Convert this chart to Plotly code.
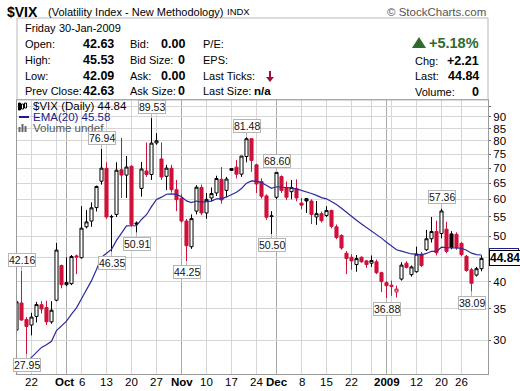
import math
import datetime as dt
import plotly.graph_objects as go

# ---------------- data ----------------
dates = [
    "2008-09-17", "2008-09-18", "2008-09-19", "2008-09-22", "2008-09-23", "2008-09-24", "2008-09-25", "2008-09-26",
    "2008-09-29", "2008-09-30", "2008-10-01", "2008-10-02", "2008-10-03", "2008-10-06", "2008-10-07", "2008-10-08",
    "2008-10-09", "2008-10-10", "2008-10-13", "2008-10-14", "2008-10-15", "2008-10-16", "2008-10-17", "2008-10-20",
    "2008-10-21", "2008-10-22", "2008-10-23", "2008-10-24", "2008-10-27", "2008-10-28", "2008-10-29", "2008-10-30",
    "2008-10-31", "2008-11-03", "2008-11-04", "2008-11-05", "2008-11-06", "2008-11-07", "2008-11-10", "2008-11-11",
    "2008-11-12", "2008-11-13", "2008-11-14", "2008-11-17", "2008-11-18", "2008-11-19", "2008-11-20", "2008-11-21",
    "2008-11-24", "2008-11-25", "2008-11-26", "2008-11-28", "2008-12-01", "2008-12-02", "2008-12-03", "2008-12-04",
    "2008-12-05", "2008-12-08", "2008-12-09", "2008-12-10", "2008-12-11", "2008-12-12", "2008-12-15", "2008-12-16",
    "2008-12-17", "2008-12-18", "2008-12-19", "2008-12-22", "2008-12-23", "2008-12-24", "2008-12-26", "2008-12-29",
    "2008-12-30", "2008-12-31", "2009-01-02", "2009-01-05", "2009-01-06", "2009-01-07", "2009-01-08", "2009-01-09",
    "2009-01-12", "2009-01-13", "2009-01-14", "2009-01-15", "2009-01-16", "2009-01-20", "2009-01-21", "2009-01-22",
    "2009-01-23", "2009-01-26", "2009-01-27", "2009-01-28", "2009-01-29", "2009-01-30",
]
opens = [
    31.5, 36.0, 33.2, 32.3, 33.7, 35.7, 35.2, 32.8,
    36.5, 43.3, 39.4, 39.6, 45.4, 45.0, 52.4, 53.9,
    57.6, 65.6, 69.9, 55.0, 55.7, 69.4, 67.6, 70.6,
    53.4, 63.3, 69.0, 67.8, 79.2, 73.2, 67.2, 69.9,
    62.9, 60.3, 53.9, 47.5, 56.6, 63.6, 56.1, 60.4,
    61.9, 66.2, 62.7, 69.8, 70.3, 67.9, 74.1, 80.9,
    71.1, 65.5, 61.0, 55.1, 60.6, 67.1, 63.6, 62.3,
    63.2, 58.9, 60.2, 59.5, 55.0, 55.9, 55.4, 56.8,
    52.4, 50.2, 46.0, 45.1, 43.5, 45.1, 44.3, 43.8,
    44.1, 41.8, 39.8, 39.3, 38.0, 40.5, 43.8, 41.4,
    42.0, 45.8, 46.8, 49.4, 51.2, 50.7, 51.8, 50.6,
    50.5, 48.3, 45.3, 42.4, 41.3, 42.63,
]
highs = [
    36.4, 42.16, 33.6, 34.3, 36.2, 36.3, 36.4, 36.3,
    48.4, 43.5, 45.1, 45.6, 45.7, 58.0, 56.9, 59.1,
    64.2, 76.94, 72.0, 55.6, 72.0, 81.17, 74.3, 71.0,
    53.8, 72.1, 79.4, 89.53, 83.1, 79.4, 71.1, 71.1,
    66.0, 61.5, 54.5, 55.7, 64.3, 64.5, 61.9, 63.6,
    67.4, 70.3, 67.0, 69.8, 72.8, 74.3, 81.48, 81.0,
    71.5, 66.5, 61.5, 56.6, 68.60, 67.5, 65.5, 66.0,
    66.2, 60.4, 60.2, 60.0, 59.5, 56.5, 58.0, 57.0,
    53.0, 50.5, 46.5, 45.8, 45.6, 45.3, 44.5, 45.5,
    44.6, 42.0, 40.1, 40.2, 39.2, 44.0, 44.2, 43.3,
    47.5, 46.3, 51.6, 55.0, 54.0, 57.36, 53.7, 51.3,
    51.0, 48.6, 45.6, 42.8, 43.0, 45.53,
]
lows = [
    31.0, 33.0, 27.95, 30.7, 32.7, 34.2, 32.3, 32.5,
    36.3, 38.7, 39.1, 39.3, 41.5, 44.8, 52.0, 52.4,
    56.5, 64.5, 54.5, 46.35, 55.0, 60.4, 60.4, 52.5,
    50.91, 60.8, 67.0, 66.0, 78.5, 66.0, 62.8, 62.0,
    56.6, 53.5, 44.25, 47.0, 55.7, 55.5, 54.5, 59.5,
    61.0, 58.7, 60.6, 69.0, 66.5, 67.0, 72.0, 68.7,
    61.9, 60.2, 54.2, 50.50, 60.0, 61.9, 59.8, 60.0,
    59.4, 57.1, 56.1, 53.1, 52.9, 53.5, 55.0, 52.0,
    49.3, 46.8, 41.5, 42.4, 42.0, 43.9, 42.8, 43.0,
    41.5, 38.0, 36.88, 37.3, 37.0, 40.2, 42.7, 41.0,
    41.8, 43.0, 46.5, 48.5, 45.5, 49.5, 46.0, 46.9,
    46.8, 45.3, 42.0, 38.09, 41.0, 42.09,
]
closes = [
    36.22, 33.10, 32.07, 33.59, 35.72, 34.95, 32.82, 34.74,
    46.72, 39.39, 39.81, 45.26, 45.14, 52.05, 53.68, 57.53,
    63.92, 69.95, 54.99, 55.13, 69.25, 67.61, 70.33, 52.97,
    53.11, 69.65, 67.80, 79.13, 80.06, 66.96, 69.96, 62.90,
    59.89, 53.90, 47.73, 54.56, 63.68, 56.10, 59.98, 61.73,
    66.46, 59.83, 66.31, 69.20, 67.90, 74.26, 80.86, 72.67,
    64.70, 60.90, 54.92, 55.28, 68.51, 62.68, 60.60, 63.60,
    60.40, 58.30, 59.50, 55.70, 55.90, 54.00, 56.80, 52.50,
    49.70, 47.20, 44.80, 44.30, 44.80, 44.10, 43.50, 44.40,
    41.80, 40.00, 39.19, 39.08, 38.56, 43.39, 42.90, 43.00,
    45.80, 43.30, 49.40, 51.20, 46.11, 56.65, 46.42, 47.29,
    47.27, 45.69, 42.25, 39.66, 42.63, 44.84,
]
prev_close_start = 30.30   # close of 16-Sep-2008 (decides colour of first bar)
ema_start = 24.5           # EMA(20) level at 16-Sep-2008 (left end of the blue line)
ema_period = 20

tick_dates = ["2008-09-22", "2008-10-01", "2008-10-06", "2008-10-13", "2008-10-20", "2008-10-27",
              "2008-11-03", "2008-11-10", "2008-11-17", "2008-11-24", "2008-12-01", "2008-12-08",
              "2008-12-15", "2008-12-22", "2009-01-02", "2009-01-12", "2009-01-20", "2009-01-26"]
tick_labels = ["22", "<b>Oct</b>", "6", "13", "20", "27", "<b>Nov</b>", "10", "17", "24", "<b>Dec</b>",
               "8", "15", "22", "<b>2009</b>", "12", "20", "26"]

y_ticks = [30, 35, 40, 45, 50, 55, 60, 65, 70, 75, 80, 85, 90, 95]
y_tick_labels = ["30", "35", "40", "45", "50", "55", "60", "65", "70", "75", "80", "85", "90", ""]

label_dates = ["2008-09-18", "2008-09-19", "2008-10-10", "2008-10-14", "2008-10-21", "2008-10-24",
               "2008-11-04", "2008-11-20", "2008-11-28", "2008-12-01", "2009-01-02", "2009-01-20", "2009-01-28"]
label_values = [42.16, 27.95, 76.94, 46.35, 50.91, 89.53, 44.25, 81.48, 50.50, 68.60, 36.88, 57.36, 38.09]
label_sides = ["high", "low", "high", "low", "low", "high", "low", "high", "low", "high", "low", "high", "low"]

last_close = 44.84
ema_last = 45.58

# ---------------- derived ----------------
n = len(dates)
xs = list(range(n))
pos = {d: i for i, d in enumerate(dates)}

ema = []
e = ema_start
k = 2.0 / (ema_period + 1)
for c in closes:
    e = e + k * (c - e)
    ema.append(e)

prev = [prev_close_start] + closes[:-1]
red_idx = [i for i in range(n) if closes[i] < prev[i]]
blk_idx = [i for i in range(n) if closes[i] >= prev[i]]

RED = "#d0103a"
BLK = "#000000"
FONT = "Liberation Sans, Arial, sans-serif"


def candle(idxs, color):
    return go.Candlestick(
        x=[xs[i] for i in idxs], open=[opens[i] for i in idxs], high=[highs[i] for i in idxs],
        low=[lows[i] for i in idxs], close=[closes[i] for i in idxs],
        increasing=dict(line=dict(color=color, width=1), fillcolor="white"),
        decreasing=dict(line=dict(color=color, width=1), fillcolor=color),
        whiskerwidth=0, showlegend=False, hoverinfo="skip")


fig = go.Figure()
fig.add_trace(go.Scatter(x=xs, y=ema, mode="lines", line=dict(color="#2a2a9c", width=1.2),
                         hoverinfo="skip", showlegend=False))
fig.add_trace(candle(blk_idx, BLK))
fig.add_trace(candle(red_idx, RED))

# ---------------- layout helpers (pixel -> paper) ----------------
L, R, T, B = 17, 488, 100, 374
W, H = R - L, B - T
X0, X1 = 0.1, 94.3
Y0, Y1 = 1.4044, 1.9906


def PX(x):
    return (x - L) / W


def PY(y):
    return (B - y) / H


shapes = []
annotations = []

# vertical grid lines: week starts (light) and month starts (dark)
dd = [dt.date.fromisoformat(d) for d in dates]
for i in range(1, n):
    if dd[i].isocalendar()[1] != dd[i - 1].isocalendar()[1]:
        shapes.append(dict(type="line", xref="x", yref="paper", x0=xs[i], x1=xs[i], y0=0, y1=1,
                           line=dict(color="#d6d6d6", width=1), layer="below"))
    if dd[i].month != dd[i - 1].month:
        shapes.append(dict(type="line", xref="x", yref="paper", x0=xs[i], x1=xs[i], y0=0, y1=1,
                           line=dict(color="#a9a9a9", width=1), layer="below"))


def txt(x, y, s, anchor="left", size=11, color="black"):
    annotations.append(dict(xref="paper", yref="paper", x=PX(x), y=PY(y), text=s, showarrow=False,
                            xanchor=anchor, yanchor="middle", font=dict(size=size, color=color, family=FONT)))


# x-axis labels (placed at the tick dates)
for d, lab in zip(tick_dates, tick_labels):
    annotations.append(dict(xref="x", yref="paper", x=xs[pos[d]], y=PY(382), text=lab, showarrow=False,
                            xanchor="center", yanchor="middle", xshift=-2 if lab == "<b>Oct</b>" else 0,
                            font=dict(size=11.5, color="black", family=FONT)))

# title + copyright
txt(5, 12, "<b>$VIX</b>", size=14)
txt(46, 12, "(Volatility Index - New Methodology)", size=11)
txt(225, 12, "INDX", size=9.5)
txt(488, 12, "© StockCharts.com", anchor="right", size=11.5, color="#555555")

# header box
shapes.append(dict(type="rect", xref="paper", yref="paper", x0=PX(L), x1=PX(R), y0=PY(T), y1=PY(18),
                   line=dict(color="#b8b8b8", width=1), fillcolor="rgba(0,0,0,0)"))
txt(23, 28, "Friday")
txt(57, 28, "30-Jan-2009")
rows_y = [44, 60, 76, 91]
for y, lab, val in zip(rows_y, ["Open:", "High:", "Low:", "Prev Close:"],
                       [opens[-1], highs[-1], lows[-1], closes[-2]]):
    txt(23, y, lab)
    txt(116, y, "<b>%.2f</b>" % val, anchor="right", size=12.5)
for y, lab, val in zip(rows_y, ["Bid:", "Bid Size:", "Ask:", "Ask Size:"], ["0.00", "0", "0.00", "0"]):
    txt(128, y, lab)
    txt(187, y, "<b>%s</b>" % val, anchor="right", size=12.5)
for y, lab in zip(rows_y, ["P/E:", "EPS:", "Last Ticks:", "Last Size:"]):
    txt(201, y, lab)
txt(273, 91, "<b>n/a</b>", anchor="right", size=11.5)
# red down arrow (last ticks)
shapes.append(dict(type="line", xref="paper", yref="paper", x0=PX(270), x1=PX(270), y0=PY(71), y1=PY(78),
                   line=dict(color="#a0103a", width=2)))
shapes.append(dict(type="path", xref="paper", yref="paper",
                   path="M %f %f L %f %f L %f %f Z" % (PX(266), PY(77), PX(274), PY(77), PX(270), PY(82)),
                   line=dict(color="#a0103a", width=0), fillcolor="#a0103a"))

# right block
chg = closes[-1] - closes[-2]
pct = chg / closes[-2] * 100
GREEN = "#2f6a2f"
shapes.append(dict(type="path", xref="paper", yref="paper",
                   path="M %f %f L %f %f L %f %f Z" % (PX(412), PY(48), PX(426), PY(48), PX(419), PY(37)),
                   line=dict(color=GREEN, width=0), fillcolor=GREEN))
txt(481, 43, "<b>%+.2f%%</b>" % pct, anchor="right", size=14.5, color=GREEN)
for y, lab, val in zip([61, 76, 92], ["Chg:", "Last:", "Volume:"], ["%+.2f" % chg, "%.2f" % closes[-1], "0"]):
    txt(413, y, lab)
    txt(481, y, "<b>%s</b>" % val, anchor="right", size=12.5)

# legend inside plot
for (x0, x1, y0, y1, fill) in [(18.5, 20.5, 103, 110, BLK), (21.5, 23.5, 104, 109, "white"),
                              (24.5, 26.5, 103, 108, "white")]:
    shapes.append(dict(type="rect", xref="paper", yref="paper", x0=PX(x0), x1=PX(x1), y0=PY(y1), y1=PY(y0),
                       line=dict(color=BLK, width=1), fillcolor=fill))
txt(31, 106, "$VIX (Daily) %.2f" % last_close, size=11.5)
shapes.append(dict(type="line", xref="paper", yref="paper", x0=PX(19), x1=PX(29), y0=PY(117), y1=PY(117),
                   line=dict(color="#1c1c8c", width=2)))
txt(31, 117, "EMA(20) %.2f" % ema_last, size=11.5, color="#1c1c8c")
for (x0, x1, y0) in [(18.5, 20.5, 127), (21.5, 23.5, 124), (24.5, 26.5, 126)]:
    shapes.append(dict(type="rect", xref="paper", yref="paper", x0=PX(x0), x1=PX(x1), y0=PY(132), y1=PY(y0),
                       line=dict(color="#666666", width=0), fillcolor="#666666"))
txt(31, 128, "Volume undef", size=11.5, color="#555555")

# high / low value labels
for d, v, s in zip(label_dates, label_values, label_sides):
    annotations.append(dict(x=xs[pos[d]], y=math.log10(v), xref="x", yref="y", text="%.2f" % v,
                            showarrow=True, arrowhead=0, arrowwidth=1, arrowcolor="#b5b5b5",
                            ax=0, ay=-11 if s == "high" else 11, bgcolor="white", bordercolor="#b5b5b5",
                            borderwidth=1, borderpad=0,
                            font=dict(size=10.5, color="#111111", family=FONT)))

# right-axis tags (EMA behind, last price on top)
annotations.append(dict(xref="paper", yref="y", x=PX(489), y=math.log10(ema_last), text="%.2f" % ema_last,
                        showarrow=False, xanchor="left", yanchor="middle", bgcolor="white",
                        bordercolor="#1c1c8c", borderwidth=1, borderpad=0,
                        font=dict(size=11, color="#1c1c8c", family=FONT)))
annotations.append(dict(xref="paper", yref="y", x=PX(489), y=math.log10(last_close),
                        text="<b>%.2f</b>" % last_close,
                        showarrow=False, xanchor="left", yanchor="middle", bgcolor="white",
                        bordercolor="black", borderwidth=1, borderpad=0,
                        font=dict(size=12, color="black", family=FONT)))

fig.update_layout(
    template="none", width=520, height=391, margin=dict(l=L, r=520 - R, t=T, b=391 - B, autoexpand=False),
    paper_bgcolor="white", plot_bgcolor="white", showlegend=False,
    boxmode="overlay", boxgap=0.12,
    font=dict(family=FONT, size=11, color="black"),
    shapes=shapes, annotations=annotations,
    xaxis=dict(range=[X0, X1], tickmode="array", tickvals=[xs[pos[d]] for d in tick_dates],
               showticklabels=False,
               showgrid=False, zeroline=False, showline=True, mirror=True, linecolor="#9a9a9a", linewidth=1,
               ticks="", rangeslider=dict(visible=False), automargin=False),
    yaxis=dict(type="log", range=[Y0, Y1], side="right", tickmode="array", tickvals=y_ticks,
               ticktext=y_tick_labels, showgrid=True, gridcolor="#d6d6d6", gridwidth=1, zeroline=False,
               showline=True, mirror=True, linecolor="#9a9a9a", linewidth=1, ticks="outside", ticklen=2,
               tickcolor="#666666", tickfont=dict(size=11.5), automargin=False),
)

fig.write_html("out.html", config={"displayModeBar": False},
               post_script="document.body.style.margin='0px';document.body.style.overflow='hidden';")
